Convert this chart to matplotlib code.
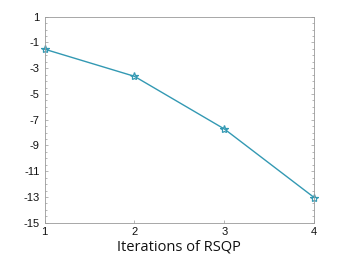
import matplotlib
matplotlib.use("Agg")
import matplotlib.pyplot as plt
from matplotlib.ticker import MultipleLocator

plt.rcParams["font.family"] = ["Liberation Sans", "DejaVu Sans"]

iterations = [1, 2, 3, 4]
values = [-1.52, -3.63, -7.72, -13.05]
yticks = [1, -1, -3, -5, -7, -9, -11, -13, -15]

fig = plt.figure(figsize=(3.45, 2.59), dpi=100)
ax = fig.add_axes([0.129, 0.140, 0.782, 0.7955])
color = "#3399b3"
ax.plot(iterations, values, color=color, lw=1.0, marker="*", ms=6,
        mfc="none", mec=color, mew=0.9, clip_on=False)
ax.set_xlim(1, 4)
ax.set_ylim(-15, 1)
ax.set_xticks(iterations)
ax.set_yticks(yticks)
ax.set_yticklabels([str(t) for t in yticks])
ax.yaxis.set_minor_locator(MultipleLocator(0.5))
ax.tick_params(axis="both", which="both", direction="in", labelsize=8,
               labelcolor="#111111", color="#999999", length=2.5, width=0.5,
               top=False, right=True)
ax.tick_params(axis="y", which="minor", length=1.5)
ax.tick_params(axis="x", pad=3)
for s in ax.spines.values():
    s.set_color("#999999")
    s.set_linewidth(0.6)
ax.set_xlabel("Iterations of RSQP", fontsize=10.5, family=["Open Sans", "DejaVu Sans"],
              labelpad=2, color="#111111")
fig.savefig("out.png", dpi=100)
